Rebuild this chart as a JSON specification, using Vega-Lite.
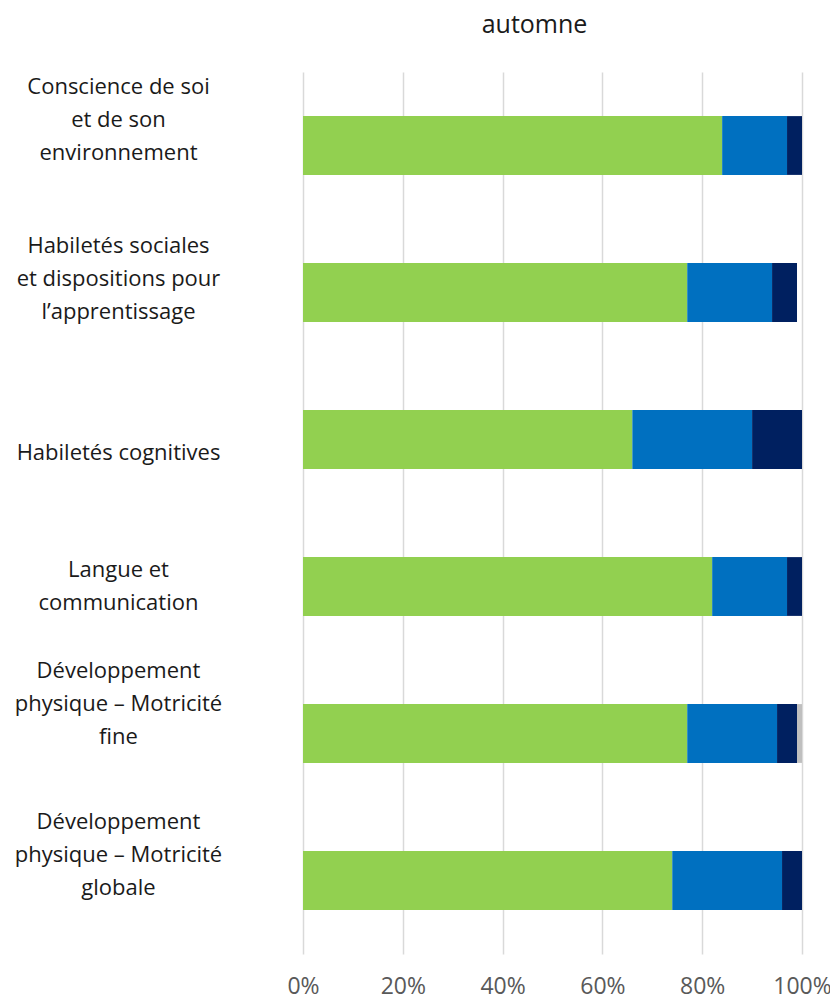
{
  "$schema": "https://vega.github.io/schema/vega-lite/v6.json",
  "autosize": "none",
  "padding": {"left": 303, "top": 72, "right": 28, "bottom": 46},
  "width": 499,
  "height": 882,
  "background": "white",
  "title": {
    "text": "automne",
    "font": "Open Sans",
    "fontSize": 25,
    "fontWeight": "normal",
    "color": "#1a1a1a",
    "anchor": "middle",
    "baseline": "alphabetic",
    "offset": 14,
    "dx": -18
  },
  "data": {
    "values": [
      {"domaine": "Conscience de soi|et de son|environnement", "niveau": "Réussi", "o": 1, "pct": 0.84},
      {"domaine": "Conscience de soi|et de son|environnement", "niveau": "En voie", "o": 2, "pct": 0.13},
      {"domaine": "Conscience de soi|et de son|environnement", "niveau": "Difficulté", "o": 3, "pct": 0.03},
      {"domaine": "Habiletés sociales|et dispositions pour|l’apprentissage", "niveau": "Réussi", "o": 1, "pct": 0.77},
      {"domaine": "Habiletés sociales|et dispositions pour|l’apprentissage", "niveau": "En voie", "o": 2, "pct": 0.17},
      {"domaine": "Habiletés sociales|et dispositions pour|l’apprentissage", "niveau": "Difficulté", "o": 3, "pct": 0.05},
      {"domaine": "Habiletés cognitives", "niveau": "Réussi", "o": 1, "pct": 0.66},
      {"domaine": "Habiletés cognitives", "niveau": "En voie", "o": 2, "pct": 0.24},
      {"domaine": "Habiletés cognitives", "niveau": "Difficulté", "o": 3, "pct": 0.10},
      {"domaine": "Langue et|communication", "niveau": "Réussi", "o": 1, "pct": 0.82},
      {"domaine": "Langue et|communication", "niveau": "En voie", "o": 2, "pct": 0.15},
      {"domaine": "Langue et|communication", "niveau": "Difficulté", "o": 3, "pct": 0.03},
      {"domaine": "Développement|physique – Motricité|fine", "niveau": "Réussi", "o": 1, "pct": 0.77},
      {"domaine": "Développement|physique – Motricité|fine", "niveau": "En voie", "o": 2, "pct": 0.18},
      {"domaine": "Développement|physique – Motricité|fine", "niveau": "Difficulté", "o": 3, "pct": 0.04},
      {"domaine": "Développement|physique – Motricité|fine", "niveau": "Non évalué", "o": 4, "pct": 0.01},
      {"domaine": "Développement|physique – Motricité|globale", "niveau": "Réussi", "o": 1, "pct": 0.74},
      {"domaine": "Développement|physique – Motricité|globale", "niveau": "En voie", "o": 2, "pct": 0.22},
      {"domaine": "Développement|physique – Motricité|globale", "niveau": "Difficulté", "o": 3, "pct": 0.04}
    ]
  },
  "mark": {"type": "bar"},
  "encoding": {
    "y": {
      "field": "domaine",
      "type": "nominal",
      "sort": null,
      "scale": {"paddingInner": 0.6, "paddingOuter": 0.3},
      "axis": {
        "title": null,
        "domain": false,
        "ticks": false,
        "labelAlign": "center",
        "labelPadding": 185,
        "labelFont": "Open Sans",
        "labelFontSize": 22,
        "labelColor": "#1a1a1a",
        "labelLineHeight": 33,
        "labelLimit": 300,
        "labelExpr": "split(datum.label, '|')",
        "labelOffset": {
          "condition": [
            {"test": "indexof(datum.value, 'Conscience') == 0", "value": -59},
            {"test": "indexof(datum.value, 'Habiletés sociales') == 0", "value": -47},
            {"test": "datum.value == 'Habiletés cognitives'", "value": 13},
            {"test": "indexof(datum.value, 'Langue') == 0", "value": -17},
            {"test": "indexof(datum.value, 'fine') > 0", "value": -63}
          ],
          "value": -59
        }
      }
    },
    "x": {
      "field": "pct",
      "type": "quantitative",
      "stack": "zero",
      "scale": {"domain": [0, 1], "nice": false},
      "axis": {
        "title": null,
        "format": ".0%",
        "values": [0, 0.2, 0.4, 0.6, 0.8, 1],
        "domain": false,
        "ticks": false,
        "grid": true,
        "gridColor": "#d9d9d9",
        "gridWidth": 1.5,
        "labelFont": "Open Sans",
        "labelFontSize": 23,
        "labelColor": "#595959",
        "labelPadding": 21,
        "labelFlush": false
      }
    },
    "color": {
      "field": "niveau",
      "type": "nominal",
      "scale": {
        "domain": ["Réussi", "En voie", "Difficulté", "Non évalué"],
        "range": ["#92D050", "#0070C0", "#002060", "#BFBFBF"]
      },
      "legend": null
    },
    "order": {"field": "o", "type": "quantitative"}
  },
  "config": {"view": {"stroke": null}}
}
